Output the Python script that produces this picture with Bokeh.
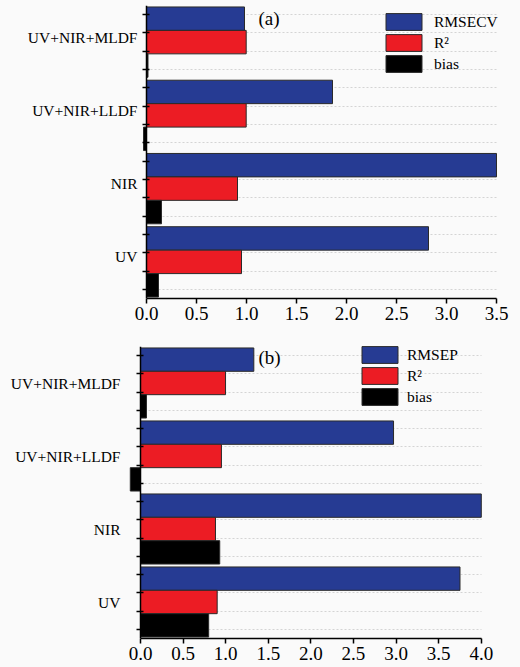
from bokeh.plotting import figure
from bokeh.layouts import column
from bokeh.models import (ColumnDataSource, Range1d, FixedTicker, Legend,
                          LegendItem, Label, LinearAxis)
from bokeh.embed import file_html
from bokeh.resources import INLINE

# Model comparison: calibration (a) and prediction (b) statistics
categories = ["UV", "NIR", "UV+NIR+LLDF", "UV+NIR+MLDF"]

rmsecv = [2.82, 3.50, 1.86, 0.98]
r2_cv = [0.95, 0.91, 0.997, 0.997]
bias_cv = [0.12, 0.15, -0.03, 0.015]

rmsep = [3.75, 4.00, 2.97, 1.33]
r2_p = [0.90, 0.88, 0.95, 0.998]
bias_p = [0.80, 0.93, -0.12, 0.07]

x_ticks_a = [0.0, 0.5, 1.0, 1.5, 2.0, 2.5, 3.0, 3.5]
x_ticks_b = [0.0, 0.5, 1.0, 1.5, 2.0, 2.5, 3.0, 3.5, 4.0]

BLUE = "#263b93"
RED = "#ec1c24"
BLACK = "#000000"
BG = "#fafafa"
SERIF = "Liberation Serif"

BAR_H = 0.96          # bar thickness, in slot units
GROUP = 3.0           # each category occupies three slots
FRAME_LEFT = 128
FRAME_RIGHT_PAD = 18


def panel(tag, names, values, x_range, axis_end, x_ticks, height,
          top, bottom, label_shift, label_standoff, legend_xy, tag_xy,
          legend_standoff):
    p = figure(width=520, height=height, output_backend="svg",
               toolbar_location=None,
               x_range=Range1d(*x_range), y_range=Range1d(0, GROUP * len(categories)),
               min_border_left=FRAME_LEFT, min_border_right=FRAME_RIGHT_PAD,
               min_border_top=top, min_border_bottom=bottom,
               background_fill_color=BG, border_fill_color=BG,
               outline_line_color=None)

    centers = [GROUP * i + GROUP / 2 for i in range(len(categories))]
    renderers = []
    colors = [BLUE, RED, BLACK]
    for j, (vals, col) in enumerate(zip(values, colors)):
        src = ColumnDataSource(dict(
            y=[c + (1 - j) * BAR_H for c in centers],
            right=vals,
            cat=categories))
        r = p.hbar(y="y", left=0, right="right", height=BAR_H, source=src,
                   fill_color=col, line_color="#2a2a2a", line_width=1)
        renderers.append(r)

    minor = [0.375 + 0.75 * k for k in range(16)]

    # category names on the left
    yax = p.yaxis[0]
    label_pos = [round(c + label_shift, 3) for c in centers]
    yax.ticker = FixedTicker(ticks=label_pos, minor_ticks=[])
    yax.major_label_overrides = {pos: name for pos, name in zip(label_pos, categories)}
    yax.axis_line_color = None
    yax.major_tick_out = 0
    yax.major_tick_in = 0
    yax.minor_tick_out = 0
    yax.minor_tick_in = 0
    yax.major_label_standoff = label_standoff
    yax.major_label_text_font = SERIF
    yax.major_label_text_font_size = "15.5px"
    yax.major_label_text_color = "black"

    # axis line with small ticks, pinned at x = 0
    zax = LinearAxis(ticker=FixedTicker(ticks=[], minor_ticks=minor),
                     fixed_location=0,
                     axis_line_width=1.5, axis_line_color="black",
                     major_tick_out=0, major_tick_in=0,
                     minor_tick_out=4, minor_tick_in=3,
                     minor_tick_line_width=1.5, minor_tick_line_color="black",
                     major_label_standoff=0,
                     major_label_text_font_size="1px")
    p.add_layout(zax, "left")

    # x axis
    xax = p.xaxis[0]
    xax.ticker = FixedTicker(ticks=x_ticks)
    xax.bounds = (0, axis_end)
    xax.major_label_overrides = {t: f"{t:.1f}" for t in x_ticks}
    xax.major_tick_out = 5
    xax.major_tick_in = 0
    xax.minor_tick_out = 0
    xax.minor_tick_in = 0
    xax.major_tick_line_width = 1.5
    xax.axis_line_width = 1.5
    xax.axis_line_color = "black"
    xax.major_label_standoff = 3
    xax.major_label_text_font = SERIF
    xax.major_label_text_font_size = "19px"
    xax.major_label_text_color = "black"

    p.xgrid.grid_line_color = None
    p.ygrid.ticker = FixedTicker(ticks=[], minor_ticks=minor)
    p.ygrid.grid_line_color = None
    p.ygrid.minor_grid_line_color = "#d4d4d4"
    p.ygrid.minor_grid_line_dash = "2 2"
    p.ygrid.minor_grid_line_width = 1
    try:
        p.ygrid.cross_bounds = (0, axis_end)
    except AttributeError:
        pass

    legend = Legend(items=[LegendItem(label=n, renderers=[r])
                           for n, r in zip(names, renderers)],
                    location=legend_xy, orientation="vertical",
                    glyph_width=45, glyph_height=21, label_height=21,
                    spacing=0, padding=0, margin=0,
                    label_standoff=legend_standoff,
                    label_text_font=SERIF, label_text_font_size="15.5px",
                    label_text_color="black",
                    border_line_color=None, background_fill_alpha=0)
    p.add_layout(legend, "center")

    p.add_layout(Label(x=tag_xy[0], y=tag_xy[1], x_units="screen", y_units="screen",
                       text=tag, text_font=SERIF, text_font_size="19px",
                       text_color="black", text_baseline="middle"))
    return p


pa = panel("(a)", ["RMSECV", "R²", "bias"], [rmsecv, r2_cv, bias_cv],
           x_range=(-0.18, 3.56), axis_end=3.5, x_ticks=x_ticks_a,
           height=333, top=5, bottom=35,
           label_shift=0.2, label_standoff=-9,
           legend_xy=(253, 224), tag_xy=(130, 280), legend_standoff=8)

pb = panel("(b)", ["RMSEP", "R²", "bias"], [rmsep, r2_p, bias_p],
           x_range=(-0.141, 4.249), axis_end=4.0, x_ticks=x_ticks_b,
           height=334, top=13, bottom=29,
           label_shift=0.0, label_standoff=8,
           legend_xy=(229, 231), tag_xy=(130, 281), legend_standoff=5)

layout = column(pa, pb, spacing=0, styles={"background-color": BG})
open("out.html", "w").write(file_html(layout, INLINE))
